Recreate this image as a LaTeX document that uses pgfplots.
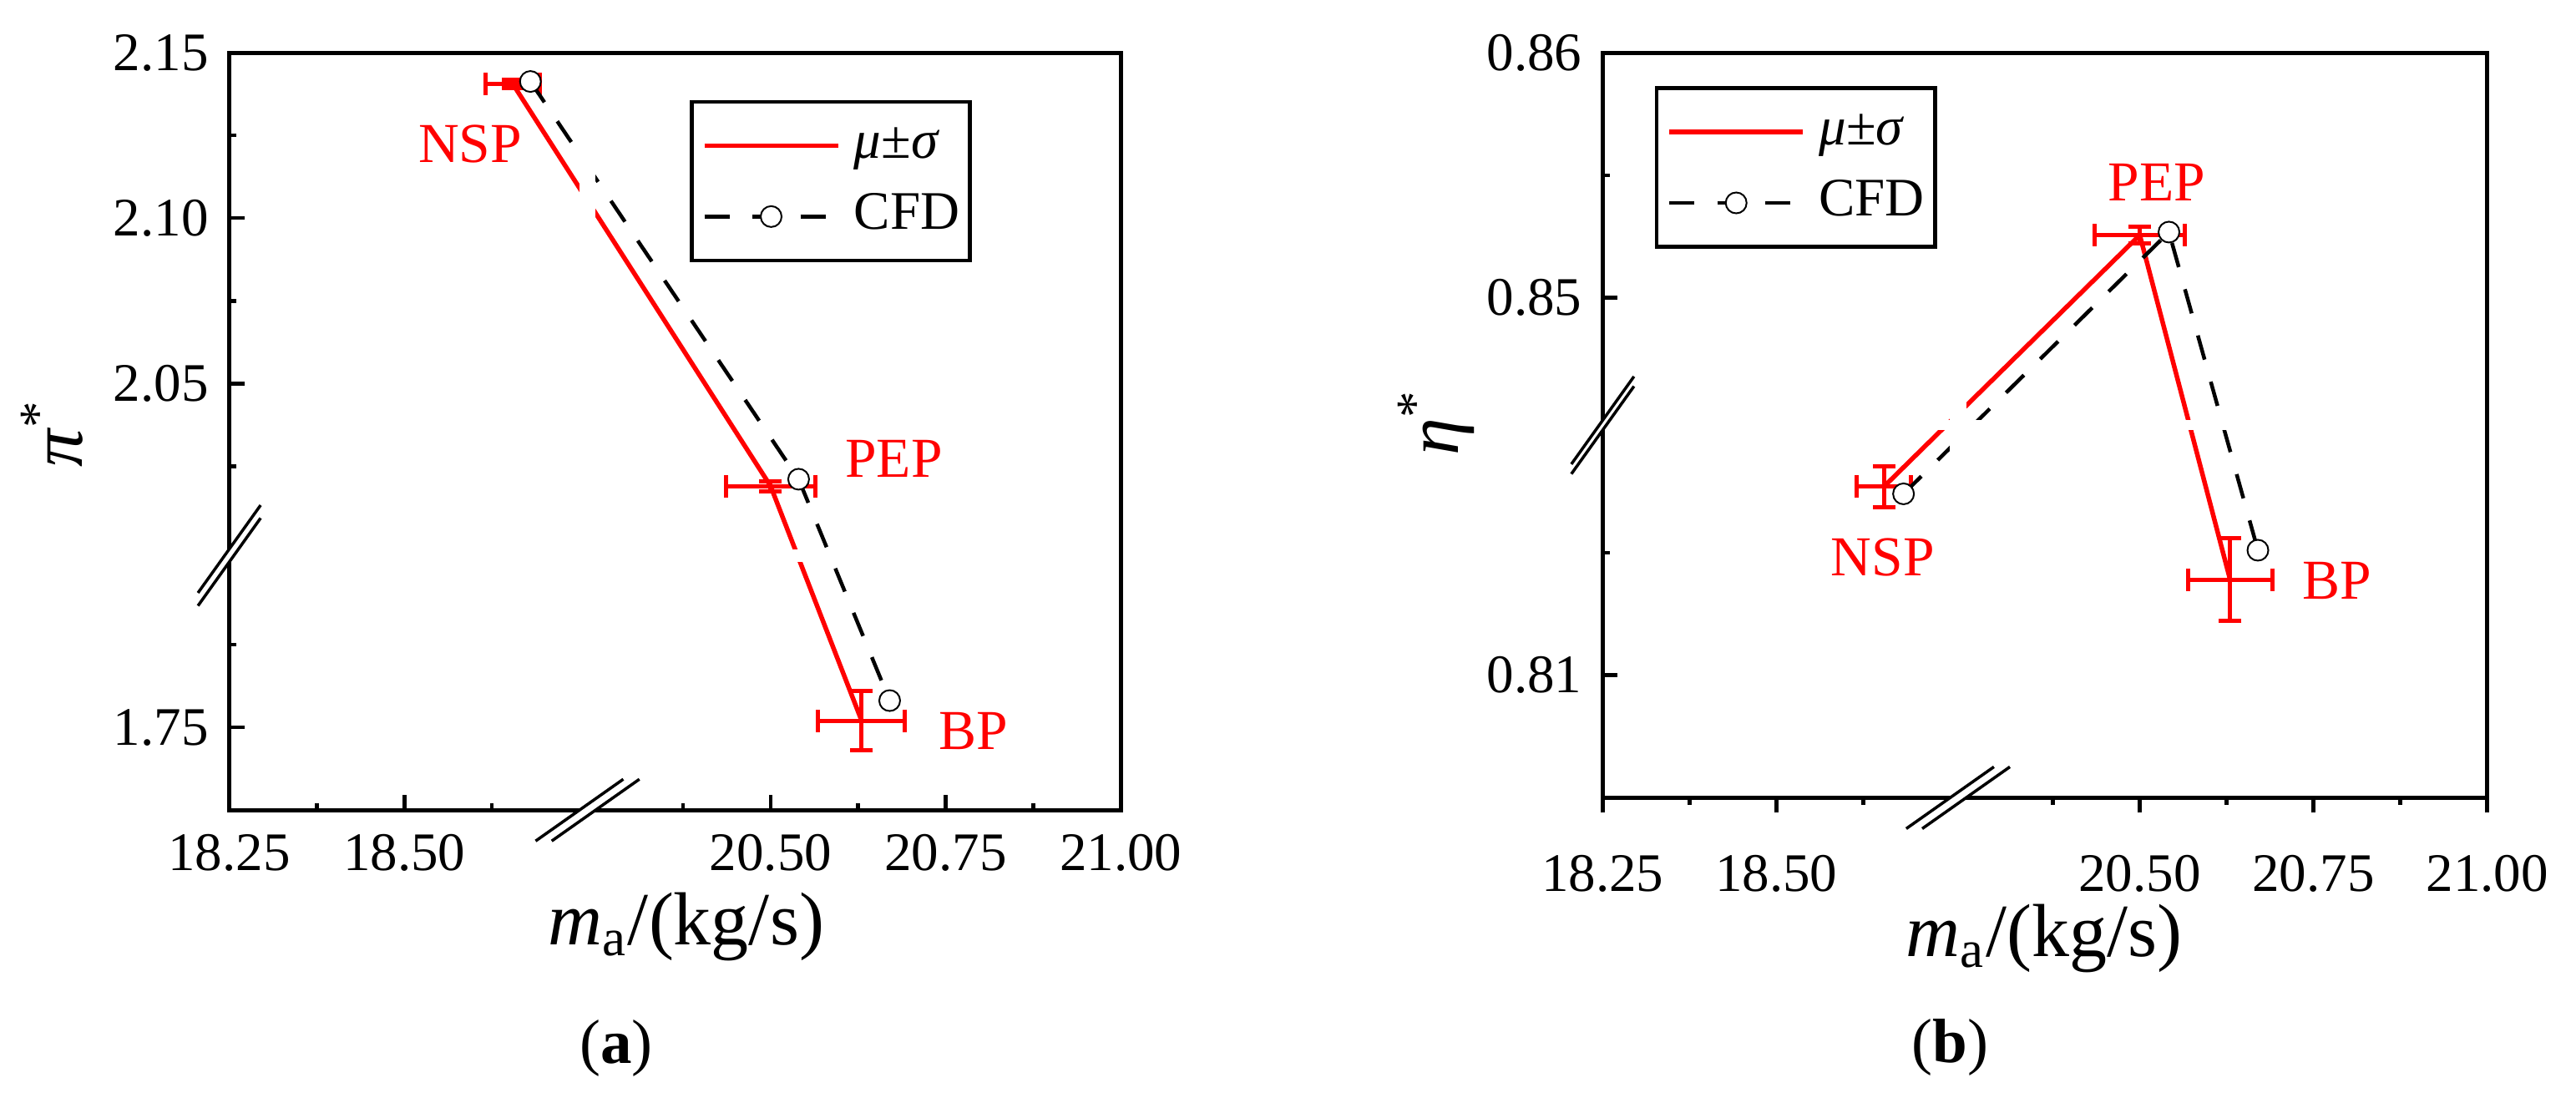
\documentclass[border=0pt]{standalone}
\usepackage{fontspec}
\setmainfont{Liberation Serif}
\usepackage{pgfplots}
\usepackage{pgfplotstable}
\pgfplotsset{compat=1.18}
\usetikzlibrary{calc}

% measured points; x above the break is shifted by -1.477, y below the break by the offset per panel
\pgfplotstableread{
x      y       xe     ye
18.655 2.1405  0.039  0.0013
20.50  2.019   0.064  0.0015
20.63  1.752   0.062  0.009
}\pimu
\pgfplotstableread{
x      y
18.68  2.1413
20.54  2.0211
20.67  1.7581
}\picfd
\pgfplotstableread{
x      y        xe     ye
18.655 0.8177   0.039  0.00083
20.50  0.85256  0.065  0.00033
20.63  0.8139   0.061  0.00168
}\etamu
\pgfplotstableread{
x      y
18.683 0.8174
20.542 0.85268
20.67  0.8151
}\etacfd

\newcommand{\tfs}{\rmfamily\fontsize{13}{15}\selectfont}
\newcommand{\pfs}{\rmfamily\fontsize{13.5}{16}\selectfont}
\newcommand{\lfs}{\rmfamily\fontsize{18}{21}\selectfont}

\pgfplotsset{
  brk/.style={
    scale only axis, axis on top,
    xmin=18.25, xmax=19.523,
    xtick={18.25,18.5,19.023,19.273,19.523},
    xticklabels={18.25,18.50,20.50,20.75,21.00},
    minor xtick={18.375,18.625,18.898,19.148,19.398},
    tick pos=left, tick align=inside,
    major tick length=3.6pt, minor tick length=1.7pt,
    every tick/.append style={line width=0.9pt, black},
    axis line style={line width=1pt},
    xticklabel style={font=\tfs, inner sep=0pt, anchor=north, yshift=-5.6pt},
    yticklabel style={font=\tfs, inner sep=0pt, anchor=east, xshift=-4.8pt},
    xlabel={\textit{m}\textsubscript{a}/(kg/s)},
    legend style={anchor=north west, draw=black, line width=0.9pt, font=\tfs,
      inner xsep=2.5pt, inner ysep=4.5pt, row sep=5pt, column sep=3.3pt,
      nodes={inner sep=0pt, text height=9pt, text depth=3pt}},
    legend cell align=left,
    legend image code/.code={\draw[mark repeat=2,mark phase=2,##1] plot coordinates {(0pt,0pt) (16pt,0pt) (32pt,0pt)};},
  },
  mu/.style={red, line width=1.1pt,
    error bars/.cd, x dir=both, x explicit, y dir=both, y explicit,
    error bar style={red, line width=1pt},
    error mark options={rotate=90, red, line width=1pt, mark size=2.7pt}},
  cfd/.style={black, line width=0.9pt, dash pattern=on 6pt off 5.5pt,
    mark=*, mark size=2.5pt, mark options={solid, fill=white, draw=black, line width=0.4pt}},
}

\begin{document}
\begin{tikzpicture}
\path[use as bounding box] (0,0) rectangle (617pt,262.8pt);

% ---------------- (a) ----------------
\begin{axis}[brk,
  at={(54.92pt,68.76pt)}, anchor=south west,
  width=213.52pt, height=181.42pt,
  ymin=1.9211, ymax=2.15,
  ytick={1.9461,2.05,2.10,2.15}, yticklabels={1.75,2.05,2.10,2.15},
  minor ytick={1.9711,2.025,2.075,2.125},
  xlabel style={font=\lfs, at={(axis description cs:0.5125,-0.108)}, anchor=north, inner sep=0pt},
  ylabel={\textit{π}\textsuperscript{*}},
  ylabel style={font=\lfs, at={(axis description cs:-0.1635,0.4974)}, anchor=south, inner sep=0pt},
  legend style={at={(0.5165,0.9377)}},
]
\addplot[mu] table[x expr={\thisrow{x}>19.5 ? \thisrow{x}-1.477 : \thisrow{x}},
  y expr={\thisrow{y}>1.9 ? \thisrow{y} : \thisrow{y}+0.1961},
  x error=xe, y error=ye] {\pimu};
\addlegendentry{\textit{μ}±\textit{σ}}
\addplot[cfd] table[x expr={\thisrow{x}>19.5 ? \thisrow{x}-1.477 : \thisrow{x}},
  y expr={\thisrow{y}>1.9 ? \thisrow{y} : \thisrow{y}+0.1961}] {\picfd};
\addlegendentry{CFD}
% blank strips of the broken axes
\fill[white] (axis cs:18.75,1.9211) rectangle (axis cs:18.773,2.15);
\fill[white] (axis cs:18.25,1.9961) rectangle (axis cs:19.523,2.0);
\node[text=red, font=\pfs] at (axis cs:18.594,2.1225) {NSP};
\node[text=red, font=\pfs] at (axis cs:19.199,2.0273) {PEP};
\node[text=red, font=\pfs] at (axis cs:19.3125,1.9449) {BP};
\coordinate (aX1) at (axis cs:18.75,1.9211);
\coordinate (aX2) at (axis cs:18.773,1.9211);
\coordinate (aY1) at (axis cs:18.25,2.0);
\coordinate (aY2) at (axis cs:18.25,1.9961);
\end{axis}

% ---------------- (b) ----------------
\begin{axis}[brk,
  at={(383.86pt,71.72pt)}, anchor=south west,
  width=211.86pt, height=178.46pt,
  ymin=0.8296, ymax=0.86,
  ytick={0.8346,0.85,0.86}, yticklabels={0.81,0.85,0.86},
  minor ytick={0.8396,0.855},
  xtick align=outside,
  xticklabel style={yshift=-4.3pt},
  xlabel style={font=\lfs, at={(axis description cs:0.4989,-0.1416)}, anchor=north, inner sep=0pt},
  ylabel={\textit{η}\textsuperscript{*}},
  ylabel style={font=\lfs, at={(axis description cs:-0.1438,0.5036)}, anchor=south, inner sep=0pt},
  legend style={at={(0.0589,0.955)}},
]
\addplot[mu] table[x expr={\thisrow{x}>19.5 ? \thisrow{x}-1.477 : \thisrow{x}},
  y expr={\thisrow{y}>0.83 ? \thisrow{y} : \thisrow{y}+0.0246},
  x error=xe, y error=ye] {\etamu};
\addlegendentry{\textit{μ}±\textit{σ}}
\addplot[cfd] table[x expr={\thisrow{x}>19.5 ? \thisrow{x}-1.477 : \thisrow{x}},
  y expr={\thisrow{y}>0.83 ? \thisrow{y} : \thisrow{y}+0.0246}] {\etacfd};
\addlegendentry{CFD}
\fill[white] (axis cs:18.75,0.8296) rectangle (axis cs:18.773,0.86);
\fill[white] (axis cs:18.25,0.8446) rectangle (axis cs:19.523,0.845);
\node[text=red, font=\pfs] at (axis cs:18.653,0.8394) {NSP};
\node[text=red, font=\pfs] at (axis cs:19.0476,0.8547) {PEP};
\node[text=red, font=\pfs] at (axis cs:19.3066,0.83847) {BP};
\coordinate (bX1) at (axis cs:18.75,0.8296);
\coordinate (bX2) at (axis cs:18.773,0.8296);
\coordinate (bY1) at (axis cs:18.25,0.845);
\coordinate (bY2) at (axis cs:18.25,0.8446);
\end{axis}

% break symbols
\foreach \p/\q in {aX1/aX2, bX1/bX2} {
  \fill[white] ($(\p)+(-10.5pt,-7.4pt)$) -- ($(\p)+(10.5pt,7.4pt)$) -- ($(\q)+(10.5pt,7.4pt)$) -- ($(\q)+(-10.5pt,-7.4pt)$) -- cycle;
  \draw[line width=0.7pt] ($(\p)+(-10.5pt,-7.4pt)$) -- ($(\p)+(10.5pt,7.4pt)$);
  \draw[line width=0.7pt] ($(\q)+(-10.5pt,-7.4pt)$) -- ($(\q)+(10.5pt,7.4pt)$);
}
\foreach \p/\q in {aY1/aY2, bY1/bY2} {
  \fill[white] ($(\p)+(-7.5pt,-10.5pt)$) -- ($(\p)+(7.5pt,10.5pt)$) -- ($(\q)+(7.5pt,10.5pt)$) -- ($(\q)+(-7.5pt,-10.5pt)$) -- cycle;
  \draw[line width=0.7pt] ($(\p)+(-7.5pt,-10.5pt)$) -- ($(\p)+(7.5pt,10.5pt)$);
  \draw[line width=0.7pt] ($(\q)+(-7.5pt,-10.5pt)$) -- ($(\q)+(7.5pt,10.5pt)$);
}

\node[font=\fontsize{15}{18}\selectfont] at (147.6pt,11.8pt) {(\textbf{a})};
\node[font=\fontsize{15}{18}\selectfont] at (467.1pt,12.0pt) {(\textbf{b})};
\end{tikzpicture}
\end{document}
